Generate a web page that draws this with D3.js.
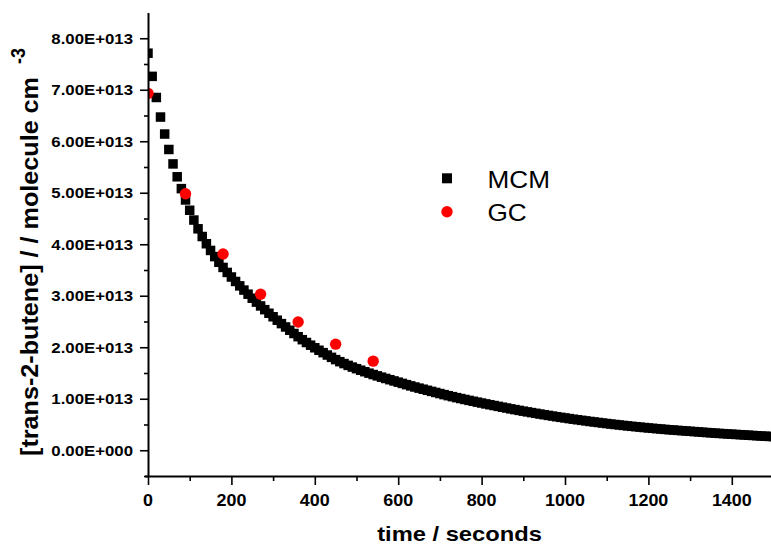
<!DOCTYPE html>
<html>
<head>
<meta charset="utf-8">
<script src="https://cdn.jsdelivr.net/npm/d3@7"></script>
<style>
  body { margin: 0; background: #fff; }
  svg { display: block; }
</style>
</head>
<body>
<svg id="chart" width="771" height="547"></svg>
<script>
// Concentrations are in units of 1e13 molecule cm^-3
const mcmTime = [0,10,20,30,40,50,60,70,80,90,100,110,120,130,140,150,160,170,180,190,200,
  210,220,230,240,250,260,270,280,290,300,310,320,330,340,350,360,370,380,390,400,
  410,420,430,440,450,460,470,480,490,500,510,520,530,540,550,560,570,580,590,600,
  610,620,630,640,650,660,670,680,690,700,710,720,730,740,750,760,770,780,790,800,
  810,820,830,840,850,860,870,880,890,900,910,920,930,940,950,960,970,980,990,1000,
  1010,1020,1030,1040,1050,1060,1070,1080,1090,1100,1110,1120,1130,1140,1150,1160,1170,1180,1190,1200,
  1210,1220,1230,1240,1250,1260,1270,1280,1290,1300,1310,1320,1330,1340,1350,1360,1370,1380,1390,1400,
  1410,1420,1430,1440,1450,1460,1470,1480,1490,1500];
const mcmConc = [7.71,7.26,6.85,6.47,6.14,5.84,5.56,5.31,5.08,4.86,4.66,4.47,4.30,4.15,4.01,3.88,3.76,3.65,3.55,3.453,3.364,
  3.277,3.192,3.110,3.030,2.952,2.876,2.802,2.730,2.660,2.592,2.525,2.459,2.394,2.330,2.267,2.205,2.147,2.092,2.040,1.990,
  1.942,1.895,1.849,1.804,1.760,1.720,1.683,1.648,1.615,1.584,1.554,1.525,1.497,1.470,1.444,1.419,1.394,1.370,1.346,1.322,
  1.298,1.274,1.250,1.228,1.206,1.185,1.164,1.143,1.122,1.101,1.080,1.060,1.041,1.022,1.004,0.986,0.968,0.951,0.934,0.917,
  0.900,0.884,0.868,0.852,0.836,0.820,0.804,0.789,0.774,0.759,0.745,0.731,0.717,0.703,0.690,0.677,0.664,0.651,0.639,0.627,
  0.615,0.603,0.592,0.581,0.570,0.559,0.549,0.539,0.529,0.519,0.509,0.500,0.491,0.482,0.473,0.465,0.457,0.449,0.441,0.433,
  0.426,0.419,0.412,0.405,0.398,0.392,0.386,0.380,0.374,0.368,0.362,0.356,0.350,0.344,0.338,0.332,0.327,0.322,0.317,0.312,
  0.307,0.302,0.297,0.292,0.287,0.282,0.277,0.272,0.268,0.264];

const gcTime = [0, 90, 180, 270, 360, 450, 540];
const gcConc = [6.93, 4.98, 3.81, 3.03, 2.49, 2.06, 1.73];

const yTickValues = [0, 1, 2, 3, 4, 5, 6, 7, 8];
const yTickLabels = ["0.00E+000","1.00E+013","2.00E+013","3.00E+013","4.00E+013",
                     "5.00E+013","6.00E+013","7.00E+013","8.00E+013"];
const yMinorValues = [-0.5, 0.5, 1.5, 2.5, 3.5, 4.5, 5.5, 6.5, 7.5];
const xTickValues = [0, 200, 400, 600, 800, 1000, 1200, 1400];
const xMinorValues = [100, 300, 500, 700, 900, 1100, 1300];

const seriesNames = ["MCM", "GC"];
const xTitle = "time / seconds";
const yTitle = "[trans-2-butene] /  / molecule cm";
const yTitleSup = "-3";

// ---- layout ----
const plot = { left: 148, right: 771, top: 12.5, bottom: 476 };
const FONT = '"Liberation Sans", Arial, Helvetica, sans-serif';
const SX = 1.12;   // lettering is slightly wide

const x = d3.scaleLinear().domain([0, 1494]).range([plot.left, plot.right]);
const y = d3.scaleLinear().domain([-0.5, 8.5]).range([plot.bottom, plot.top]);

const svg = d3.select("#chart");

svg.append("clipPath").attr("id", "plotClip")
  .append("rect")
  .attr("x", plot.left).attr("y", 0)
  .attr("width", plot.right - plot.left).attr("height", plot.bottom);

// ---- data marks ----
const marks = svg.append("g").attr("clip-path", "url(#plotClip)");
const SQ = 9.5;
marks.selectAll("rect.mcm")
  .data(mcmTime.map((t, i) => ({ t, c: mcmConc[i] })))
  .join("rect")
  .attr("class", "mcm")
  .attr("x", d => x(d.t) - SQ / 2)
  .attr("y", d => y(d.c) - SQ / 2)
  .attr("width", SQ).attr("height", SQ)
  .attr("fill", "#000");

marks.selectAll("circle.gc")
  .data(gcTime.map((t, i) => ({ t, c: gcConc[i] })))
  .join("circle")
  .attr("class", "gc")
  .attr("cx", d => x(d.t))
  .attr("cy", d => y(d.c))
  .attr("r", 5.7)
  .attr("fill", "#ff0000");

// ---- axes ----
function styleAxis(g, width) {
  g.selectAll("path.domain").attr("stroke", "#000").attr("stroke-width", width);
  g.selectAll(".tick line").attr("stroke", "#000").attr("stroke-width", 1.6);
}

const yMinor = svg.append("g").attr("transform", `translate(${plot.left},0)`)
  .call(d3.axisLeft(y).tickValues(yMinorValues).tickSize(4).tickSizeOuter(0).tickFormat(""));
yMinor.select("path.domain").remove();
styleAxis(yMinor, 2);

const yAxis = svg.append("g").attr("transform", `translate(${plot.left},0)`)
  .call(d3.axisLeft(y).tickValues(yTickValues).tickSize(8).tickSizeOuter(0).tickFormat(""));
styleAxis(yAxis, 2);

const xMinor = svg.append("g").attr("transform", `translate(0,${plot.bottom})`)
  .call(d3.axisBottom(x).tickValues(xMinorValues).tickSize(5).tickSizeOuter(0).tickFormat(""));
xMinor.select("path.domain").remove();
styleAxis(xMinor, 2);

const xAxis = svg.append("g").attr("transform", `translate(0,${plot.bottom})`)
  .call(d3.axisBottom(x).tickValues(xTickValues).tickSize(9).tickSizeOuter(0).tickFormat(""));
styleAxis(xAxis, 2);
xAxis.select("path.domain").attr("d", `M${plot.left - 3},0.5H${plot.right}`);

// tick labels
svg.append("g").selectAll("text")
  .data(yTickValues)
  .join("text")
  .attr("transform", v => `translate(133,${y(v)}) scale(${SX},1)`)
  .attr("dy", "0.36em")
  .attr("text-anchor", "end")
  .attr("font-family", FONT).attr("font-weight", "bold").attr("font-size", 15)
  .text((v, i) => yTickLabels[i]);

svg.append("g").selectAll("text")
  .data(xTickValues)
  .join("text")
  .attr("transform", v => `translate(${x(v)},505.5) scale(${SX},1)`)
  .attr("text-anchor", "middle")
  .attr("font-family", FONT).attr("font-weight", "bold").attr("font-size", 16)
  .text(v => String(v));

// axis titles
svg.append("text")
  .attr("transform", `translate(${(plot.left + plot.right) / 2},541) scale(1.13,1)`)
  .attr("text-anchor", "middle")
  .attr("font-family", FONT).attr("font-weight", "bold").attr("font-size", 21)
  .text(xTitle);

svg.append("text")
  .attr("transform", `translate(38,456) scale(${SX},1) rotate(-90)`)
  .attr("text-anchor", "start")
  .attr("font-family", FONT).attr("font-weight", "bold").attr("font-size", 22)
  .attr("textLength", 379).attr("lengthAdjust", "spacingAndGlyphs")
  .text(yTitle);

svg.append("text")
  .attr("transform", `translate(25,64) scale(${SX},1) rotate(-90)`)
  .attr("text-anchor", "start")
  .attr("font-family", FONT).attr("font-weight", "bold").attr("font-size", 18)
  .text(yTitleSup);

// ---- legend ----
const legend = svg.append("g");
legend.append("rect")
  .attr("x", 447 - 5).attr("y", 178.3 - 5).attr("width", 10).attr("height", 10)
  .attr("fill", "#000");
legend.append("circle")
  .attr("cx", 447).attr("cy", 211.7).attr("r", 5.7).attr("fill", "#ff0000");
legend.selectAll("text")
  .data(seriesNames)
  .join("text")
  .attr("transform", (d, i) => `translate(487.5,${187.5 + i * 33.3}) scale(1.09,1)`)
  .attr("font-family", FONT).attr("font-size", 24)
  .text(d => d);
</script>
</body>
</html>
